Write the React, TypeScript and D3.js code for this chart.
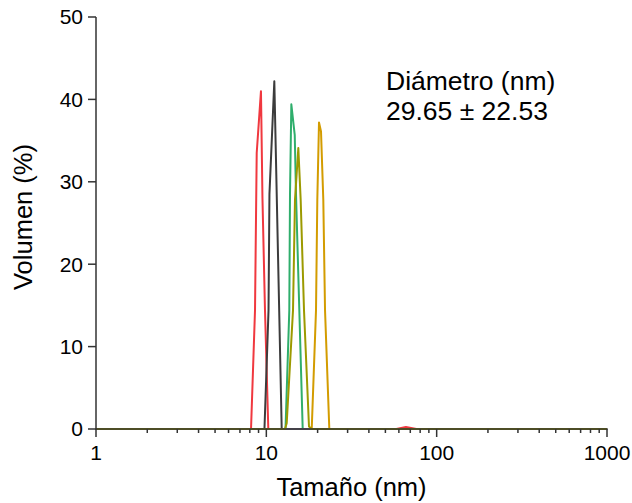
import React from "react";
import * as d3 from "d3";

// Sizes (nm) and volume (%)
const redSize = [1, 8.13, 8.58, 8.78, 9.3, 9.49, 9.82, 10.27, 58, 66, 76, 1000];
const redVol = [0, 0, 14.4, 33.5, 41.0, 28.0, 14.4, 0, 0, 0.25, 0, 0];

const blackSize = [1, 9.75, 10.3, 10.43, 11.14, 12.31, 1000];
const blackVol = [0, 0, 14.4, 28.5, 42.2, 0, 0];

const greenSize = [1, 12.96, 13.64, 13.77, 14.02, 14.68, 14.94, 16.35, 1000];
const greenVol = [0, 0, 14.4, 28.4, 39.4, 35.7, 28.4, 0, 0];

const goldSize = [1, 18.47, 19.57, 19.92, 20.38, 20.94, 21.6, 22.11, 23.43, 1000];
const goldVol = [0, 0, 14.4, 27.8, 37.2, 36.1, 27.8, 14.4, 0, 0];

const greySize = [1, 1000];
const greyVol = [0, 0];

const oliveSize = [1, 12.87, 13.17, 14.34, 14.73, 15.41, 15.91, 16.64, 17.8, 18.47, 1000];
const oliveVol = [0, 0, 0.7, 14.4, 27.8, 34.1, 27.8, 14.4, 0.3, 0, 0];

const yTicks = [0, 10, 20, 30, 40, 50];
const xTicks = [1, 10, 100, 1000];
const xTickLabels = ["1", "10", "100", "1000"];

const series = [
  { size: redSize, vol: redVol, color: "#f0383f" },
  { size: blackSize, vol: blackVol, color: "#3c3c3c" },
  { size: greenSize, vol: greenVol, color: "#2fae6c" },
  { size: goldSize, vol: goldVol, color: "#d39c00" },
  { size: greySize, vol: greyVol, color: "#7a6c86" },
  { size: oliveSize, vol: oliveVol, color: "#9c9a00" },
];

export default function App() {
  const W = 632;
  const H = 503;
  const x = d3.scaleLog().domain([1, 1000]).range([96, 607]);
  const y = d3.scaleLinear().domain([0, 50]).range([429, 17]);
  const line = d3
    .line<[number, number]>()
    .x((d) => x(d[0]))
    .y((d) => y(d[1]));

  const minor: number[] = [];
  for (let dec = 1; dec < 1000; dec *= 10) {
    for (let k = 2; k <= 9; k++) minor.push(dec * k);
  }

  const font = "Arial, 'Liberation Sans', sans-serif";
  const axisColor = "#333333";

  return (
    <div style={{ position: "absolute", left: 0, top: 0 }}>
      <svg width={W} height={H} style={{ display: "block" }}>
        <rect width={W} height={H} fill="#ffffff" />
        {series.map((s, i) => {
          const pts: [number, number][] = s.size.map((v, j) => [v, s.vol[j]]);
          return (
            <path
              key={i}
              d={line(pts) || ""}
              fill="none"
              stroke={s.color}
              strokeWidth={2}
              strokeLinejoin="round"
            />
          );
        })}
        {/* axes */}
        <line x1={96} x2={96} y1={17} y2={430} stroke={axisColor} strokeWidth={1.5} />
        <line x1={95.25} x2={607.75} y1={429} y2={429} stroke={axisColor} strokeWidth={1.5} />
        {yTicks.map((t) => (
          <g key={"y" + t}>
            <line x1={88} x2={96} y1={y(t)} y2={y(t)} stroke={axisColor} strokeWidth={1.5} />
            <text
              x={83}
              y={y(t)}
              dy="0.35em"
              textAnchor="end"
              fontFamily={font}
              fontSize={21}
              fill="#000"
            >
              {t}
            </text>
          </g>
        ))}
        {xTicks.map((t, i) => (
          <g key={"x" + t}>
            <line x1={x(t)} x2={x(t)} y1={429} y2={437} stroke={axisColor} strokeWidth={1.5} />
            <text
              x={x(t)}
              y={460}
              textAnchor="middle"
              fontFamily={font}
              fontSize={21}
              fill="#000"
            >
              {xTickLabels[i]}
            </text>
          </g>
        ))}
        {minor.map((t) => (
          <line key={"m" + t} x1={x(t)} x2={x(t)} y1={429} y2={433} stroke={axisColor} strokeWidth={1.5} />
        ))}
        <text
          x={351.5}
          y={496}
          textAnchor="middle"
          fontFamily={font}
          fontSize={25.5}
          fill="#000"
        >
          Tamaño (nm)
        </text>
        <text
          transform={`translate(32,217) rotate(-90)`}
          textAnchor="middle"
          fontFamily={font}
          fontSize={25.5}
          fill="#000"
        >
          Volumen (%)
        </text>
        <text x={386} y={90} fontFamily={font} fontSize={26.5} fill="#000">
          Diámetro (nm)
        </text>
        <text x={386} y={120} fontFamily={font} fontSize={26.5} fill="#000">
          29.65 ± 22.53
        </text>
      </svg>
    </div>
  );
}
